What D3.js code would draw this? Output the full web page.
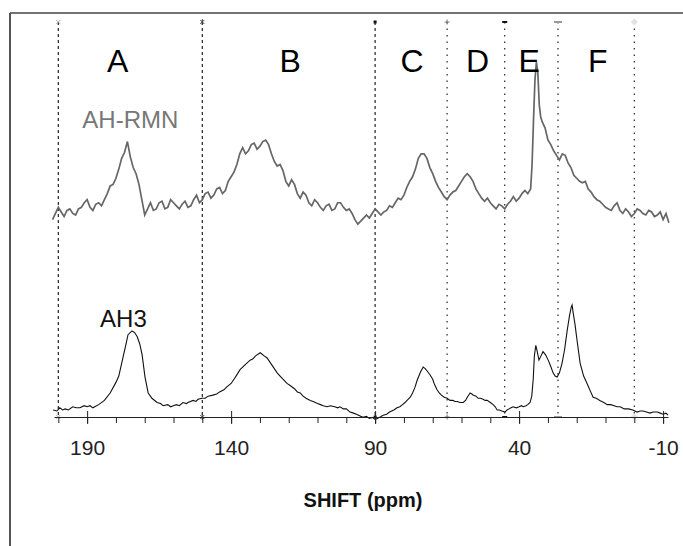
<!DOCTYPE html>
<html>
<head>
<meta charset="utf-8">
<script src="https://d3js.org/d3.v7.min.js"></script>
<style>
  body { margin: 0; background: #fff; }
  svg { display: block; font-family: "Liberation Sans", Arial, sans-serif; }
</style>
</head>
<body>
<div id="chart"></div>
<script>
// chemical shift range of the spectra (ppm, reversed as usual)
var shiftRange = [201.5, -11.7];
var majorTicks = [190, 140, 90, 40, -10];
var minorTicks = [200, 190, 180, 170, 160, 150, 140, 130, 120, 110, 100, 90, 80, 70, 60, 50, 40, 30, 20, 10, 0, -10];

// region borders (ppm) and region names
var regionBorders = [200, 150, 90, 65, 45, 26.5, 0];
var regionNames = ["A", "B", "C", "D", "E", "F"];
var regionLabelPpm = [179.4, 119.5, 77.2, 54.4, 36.5, 12.7];

var seriesNames = ["AH-RMN", "AH3"];

// AH-RMN spectrum, [ppm, relative intensity]
var ahRmn = [
  [202,-3],[201,1],[200,5],[199,2],[198,-1],[197,3],[196,4],[195,1],[194,0],[193,4],
  [192,5],[191,8],[190,10],[189,5],[188,3],[187,7],[186,8],[185,6],[184,10],[183,14],
  [182,19],[181,20],[180,24],[179,30],[178,37],[177,41],[176,48],[175,38],[174,31],[173,27],
  [172,20],[171,10],[170,0],[169,4],[168,8],[167,3],[166,4],[165,8],[164,9],[163,4],
  [162,5],[161,10],[160,8],[159,6],[158,4],[157,7],[156,9],[155,5],[154,6],[153,10],
  [152,13],[151,8],[150,10],[149,14],[148,15],[147,11],[146,13],[145,17],[144,18],[143,14],
  [142,16],[141,22],[140,25],[139,28],[138,33],[137,40],[136,44],[135,40],[134,42],[133,46],
  [132,47],[131,43],[130,45],[129,48],[128,49],[127,46],[126,40],[125,35],[124,32],[123,33],
  [122,29],[121,22],[120,19],[119,23],[118,20],[117,14],[116,11],[115,15],[114,13],[113,8],
  [112,6],[111,10],[110,8],[109,5],[108,3],[107,6],[106,7],[105,3],[104,4],[103,8],
  [102,8],[101,5],[100,3],[99,4],[98,1],[97,-3],[96,-6],[95,-4],[94,-2],[93,0],
  [92,-2],[91,1],[90,4],[89,2],[88,0],[87,2],[86,3],[85,6],[84,5],[83,8],
  [82,11],[81,10],[80,13],[79,18],[78,22],[77,25],[76,30],[75,37],[74,40],[73,40],
  [72,37],[71,31],[70,27],[69,22],[68,18],[67,15],[66,12],[65,10],[64,13],[63,15],
  [62,16],[61,19],[60,22],[59,25],[58,27],[57,25],[56,22],[55,17],[54,14],[53,11],
  [52,9],[51,11],[50,8],[49,6],[48,4],[47,7],[46,6],[45,4],[44,7],[43,9],
  [42,12],[41,9],[40,11],[39,14],[38,16],[37,14],[36,17],[35.5,33],[35,62],[34.5,88],
  [34,100],[33.5,93],[33,72],[32.5,64],[32,61],[31,57],[30,49],[29,46],[28,42],[27,39],
  [26,36],[25,40],[24,39],[23,34],[22,31],[21,26],[20,24],[19,22],[18,21],[17,22],
  [16,17],[15,15],[14,12],[13,10],[12,9],[11,7],[10,5],[9,4],[8,3],[7,6],
  [6,8],[5,3],[4,1],[3,4],[2,2],[1,-1],[0,1],[-1,4],[-2,3],[-3,1],
  [-4,0],[-5,3],[-6,2],[-7,-1],[-8,0],[-9,2],[-10,-3],[-11,1],[-12,-5]
];

// AH3 spectrum, [ppm, relative intensity]
var ah3 = [
  [201.8,1],[200.5,0],[199.5,3],[198.5,1],[197.6,2],[196.5,1],[195,4],[193.8,3],[192.5,3],[191,5],
  [190,4],[189,5],[188,3],[186,6],[184,10],[182,17],[180,27],[179,33],[177.5,51],[176.5,63],
  [175.8,72],[174.4,75.5],[173.5,74],[172.6,70],[171.7,63],[170.9,53],[169.9,32],[168.8,17],[167.5,12],[165.7,8],
  [164.5,7],[163.6,5],[162,6],[161,4],[160.1,5],[159,6],[158,5],[156.7,8],[155.5,7],[155,8],
  [153.2,10],[152.2,9],[151.5,11],[150.1,12],[149,12],[148,14],[146.3,15],[145,16],[144,18],[142.5,20],
  [141.4,23],[140,26],[139,30],[137.8,35],[136.9,39],[135,44],[133.4,48],[132.5,49],[131.5,52],[129.9,55],
  [128.5,52],[127.5,50],[126,44],[125,40],[124,36],[123,33],[122,30],[120.6,26],[119.5,24],[118,21],
  [117,18],[116,17],[115,14],[114,12],[112.5,10],[111.5,9],[110,7],[109,6],[108,5],[106.7,4],
  [105.5,5],[104,4],[103,3],[102.2,4],[101,2],[100,2],[98.7,-1],[97.5,-2],[96.5,-3],[95,-5],
  [94.2,-6],[93,-5],[92,-7],[91,-6],[90,-8],[89.2,-7],[88.5,-6],[87.2,-4],[86,-3],[85,-1],
  [83.5,1],[82.4,3],[81.4,4],[80.5,6],[79.6,8],[78.9,10],[77.8,13],[77,17],[76.2,22],[75.4,29],
  [74.2,37],[73.3,41.5],[72.6,40],[72,38],[70.9,34],[70,30],[69.5,26],[68.5,20],[67.7,17],[67,15],
  [66,13],[65,12],[64,10],[63,10],[62.2,9],[61.5,9],[60.5,8],[59.4,8],[58.6,10],[58,13],
  [57,17],[56.4,16],[56,15],[55,14],[54.2,12],[53.4,12],[52.5,11],[51.8,10],[51.1,10],[50,8],
  [49,6],[48.3,4],[47.6,1],[46.8,1],[46,0],[44.9,-1],[44.2,1],[43.5,2],[42.8,3],[42.1,4],
  [41,3],[40,4],[39.2,5],[38.6,4],[37.6,5],[37,6],[36.2,8],[35.6,14],[35.1,30],[34.7,52],
  [34.2,62],[33.7,56],[33.1,48],[32.4,52],[31.7,56],[30.8,53],[29.9,48],[29,42],[28.2,36],[27.5,33],
  [26.8,32],[26,36],[25.1,45],[24.2,58],[23.3,76],[22.5,90],[21.9,98],[21.6,100],[21.25,93],[20.6,82],
  [19.9,67],[18.8,45],[17.6,33],[16.4,26],[15.3,19],[14.3,13],[13.2,12],[12,10],[10.6,8],[9.4,6],
  [8.2,6],[7,5],[6,4],[4.9,4],[3.5,2],[2,2],[0.5,1],[-1,-1],[-2,0],[-3,0],
  [-4.2,-1],[-5.5,-2],[-6.5,-1],[-8,-1],[-9,-2],[-10,-3],[-11,-2],[-11.7,-4]
];

var W = 683, H = 546;
var axisY = 417;

var svg = d3.select("#chart").append("svg")
    .attr("width", W)
    .attr("height", H);

var x = d3.scaleLinear().domain(shiftRange).range([54, 668]);
var yRmn = d3.scaleLinear().domain([0, 100]).range([215, 62]);
var yAh3 = d3.scaleLinear().domain([0, 100]).range([411, 305]);

// frame: top and left border only
svg.append("line")
    .attr("x1", 10).attr("x2", W).attr("y1", 13).attr("y2", 13)
    .attr("stroke", "#444").attr("stroke-width", 1.5);
svg.append("line")
    .attr("x1", 10).attr("x2", 10).attr("y1", 13).attr("y2", H)
    .attr("stroke", "#555").attr("stroke-width", 2);

// region borders
svg.append("g").selectAll("line")
    .data(regionBorders)
    .enter().append("line")
    .attr("x1", function(d) { return x(d); })
    .attr("x2", function(d) { return x(d); })
    .attr("y1", 22)
    .attr("y2", axisY)
    .attr("stroke", "#222")
    .attr("stroke-width", 1.2)
    .attr("stroke-dasharray", function(d, i) { return i < 3 ? "3,3" : "1.5,5"; });

// small series markers at both ends of the borders
function marker(g, i, cx, cy) {
  if (i == 0) {
    g.append("path").attr("d", "M" + (cx-2) + "," + (cy-2) + "L" + (cx+2) + "," + (cy+2) + "M" + (cx+2) + "," + (cy-2) + "L" + (cx-2) + "," + (cy+2))
      .attr("stroke", "#aaa").attr("stroke-width", 1);
  } else if (i == 1) {
    g.append("path").attr("d", "M" + (cx-2) + "," + (cy-2) + "L" + (cx+2) + "," + (cy+2) + "M" + (cx+2) + "," + (cy-2) + "L" + (cx-2) + "," + (cy+2) + "M" + cx + "," + (cy-3) + "L" + cx + "," + (cy+3))
      .attr("stroke", "#444").attr("stroke-width", 1);
  } else if (i == 2) {
    g.append("rect").attr("x", cx-1.5).attr("y", cy-1.5).attr("width", 3).attr("height", 3).attr("fill", "#111");
  } else if (i == 3) {
    g.append("path").attr("d", "M" + (cx-2.5) + "," + cy + "L" + (cx+2.5) + "," + cy + "M" + cx + "," + (cy-2.5) + "L" + cx + "," + (cy+2.5))
      .attr("stroke", "#777").attr("stroke-width", 1);
  } else if (i == 4) {
    g.append("rect").attr("x", cx-2.5).attr("y", cy-1).attr("width", 5).attr("height", 2).attr("fill", "#111");
  } else if (i == 5) {
    g.append("rect").attr("x", cx-4).attr("y", cy-1).attr("width", 8).attr("height", 2).attr("fill", "#999");
  } else {
    g.append("path").attr("d", "M" + cx + "," + (cy-3.5) + "L" + (cx+3.5) + "," + cy + "L" + cx + "," + (cy+3.5) + "L" + (cx-3.5) + "," + cy + "Z")
      .attr("fill", "#e2e2e2");
  }
}
var mk = svg.append("g");
regionBorders.forEach(function(d, i) {
  marker(mk, i, x(d), 22);
  marker(mk, i, x(d), axisY);
});

// spectra
var lineRmn = d3.line()
    .x(function(d) { return x(d[0]); })
    .y(function(d) { return yRmn(d[1]); });
var lineAh3 = d3.line()
    .x(function(d) { return x(d[0]); })
    .y(function(d) { return yAh3(d[1]); });

svg.append("path")
    .datum(ahRmn)
    .attr("d", lineRmn)
    .attr("fill", "none")
    .attr("stroke", "#666")
    .attr("stroke-width", 1.7)
    .attr("stroke-linejoin", "miter");

svg.append("path")
    .datum(ah3)
    .attr("d", lineAh3)
    .attr("fill", "none")
    .attr("stroke", "#111")
    .attr("stroke-width", 1.1);

// x axis: minor ticks below, major ticks across with labels
var axisG = svg.append("g").attr("transform", "translate(0," + axisY + ")");
axisG.call(d3.axisBottom(x).tickValues(minorTicks).tickSize(6).tickSizeOuter(0).tickFormat(""));
axisG.select(".domain").attr("stroke", "#222");
axisG.selectAll(".tick line").attr("stroke", "#222");

var majorG = svg.append("g").attr("transform", "translate(0," + axisY + ")");
majorG.call(d3.axisBottom(x).tickValues(majorTicks).tickSize(7).tickPadding(16).tickFormat(function(d) { return String(d); }));
majorG.select(".domain").remove();
majorG.selectAll(".tick line").attr("y1", -6).attr("stroke", "#222");
majorG.selectAll(".tick text")
    .style("font-family", "'Liberation Sans', Arial, sans-serif")
    .style("font-size", "21px")
    .attr("fill", "#222");

// region names
svg.append("g").selectAll("text")
    .data(regionNames)
    .enter().append("text")
    .attr("x", function(d, i) { return x(regionLabelPpm[i]); })
    .attr("y", 72)
    .attr("text-anchor", "middle")
    .style("font-size", "32px")
    .style("fill", "#000")
    .text(function(d) { return d; });

// series names
svg.append("text")
    .attr("x", x(175)).attr("y", 128)
    .attr("text-anchor", "middle")
    .style("font-size", "24px")
    .style("fill", "#777")
    .text(seriesNames[0]);
svg.append("text")
    .attr("x", x(177.4)).attr("y", 327)
    .attr("text-anchor", "middle")
    .style("font-size", "24px")
    .style("fill", "#111")
    .text(seriesNames[1]);

// axis title
svg.append("text")
    .attr("x", 363).attr("y", 507)
    .attr("text-anchor", "middle")
    .style("font-size", "20px")
    .style("font-weight", "bold")
    .style("fill", "#111")
    .text("SHIFT (ppm)");
</script>
</body>
</html>
